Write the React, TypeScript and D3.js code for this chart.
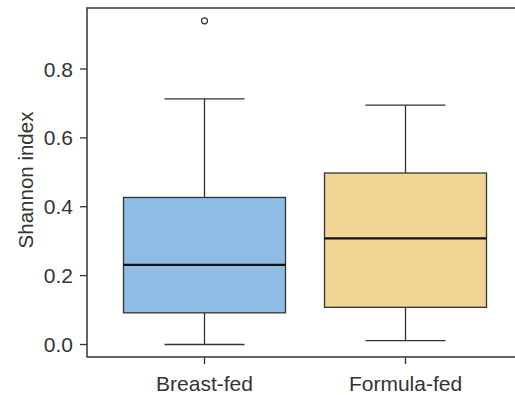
import React from "react";
import * as d3 from "d3";

const categories = ["Breast-fed", "Formula-fed"];
const whiskerLow = [0.0, 0.011];
const q1 = [0.092, 0.108];
const median = [0.231, 0.308];
const q3 = [0.427, 0.498];
const whiskerHigh = [0.713, 0.695];
const outliers = [[0.94], []];
const colors = ["#8DBDE6", "#F2D594"];
const yTicks = [0.0, 0.2, 0.4, 0.6, 0.8];

const W = 515, H = 395;
const left = 87, top = 8, right = 515, bottom = 357;

export default function App() {
  const y = d3.scaleLinear().domain([0, 0.8]).range([344.5, 69]);
  const xc = d3.scalePoint().domain(categories).range([204.5, 405.5]);
  const boxW = 162;
  const capW = 80;
  const font = "'Liberation Sans', Arial, Helvetica, sans-serif";
  const stroke = "#333";
  return (
    <svg width={W} height={H} style={{ position: "absolute", left: 0, top: 0 }}>
      <rect x={0} y={0} width={W} height={H} fill="#fff" />
      {categories.map((c, i) => {
        const cx = xc(c)!;
        return (
          <g key={c}>
            <line x1={cx} x2={cx} y1={y(whiskerHigh[i])} y2={y(q3[i])} stroke={stroke} strokeWidth={1.3} />
            <line x1={cx} x2={cx} y1={y(q1[i])} y2={y(whiskerLow[i])} stroke={stroke} strokeWidth={1.3} />
            <line x1={cx - capW / 2} x2={cx + capW / 2} y1={y(whiskerHigh[i])} y2={y(whiskerHigh[i])} stroke={stroke} strokeWidth={1.3} />
            <line x1={cx - capW / 2} x2={cx + capW / 2} y1={y(whiskerLow[i])} y2={y(whiskerLow[i])} stroke={stroke} strokeWidth={1.3} />
            <rect x={cx - boxW / 2} y={y(q3[i])} width={boxW} height={y(q1[i]) - y(q3[i])} fill={colors[i]} stroke={stroke} strokeWidth={1.3} />
            <line x1={cx - boxW / 2} x2={cx + boxW / 2} y1={y(median[i])} y2={y(median[i])} stroke="#111" strokeWidth={2.2} />
            {outliers[i].map((v, j) => (
              <circle key={j} cx={cx} cy={y(v)} r={3} fill="none" stroke={stroke} strokeWidth={1.2} />
            ))}
            <line x1={cx} x2={cx} y1={bottom} y2={bottom + 7} stroke={stroke} strokeWidth={1.3} />
            <text x={cx} y={391} textAnchor="middle" fontFamily={font} fontSize={21} fill="#333">{c}</text>
          </g>
        );
      })}
      <path d={`M${right},${top}H${left}V${bottom}H${right}`} fill="none" stroke={stroke} strokeWidth={1.5} />
      {yTicks.map((t) => (
        <g key={t}>
          <line x1={left - 7} x2={left} y1={y(t)} y2={y(t)} stroke={stroke} strokeWidth={1.3} />
          <text x={73} y={y(t)} dy="0.36em" textAnchor="end" fontFamily={font} fontSize={21} fill="#333">{t.toFixed(1)}</text>
        </g>
      ))}
      <text transform={`translate(33,180) rotate(-90)`} textAnchor="middle" fontFamily={font} fontSize={20.5} fill="#333">Shannon index</text>
    </svg>
  );
}
